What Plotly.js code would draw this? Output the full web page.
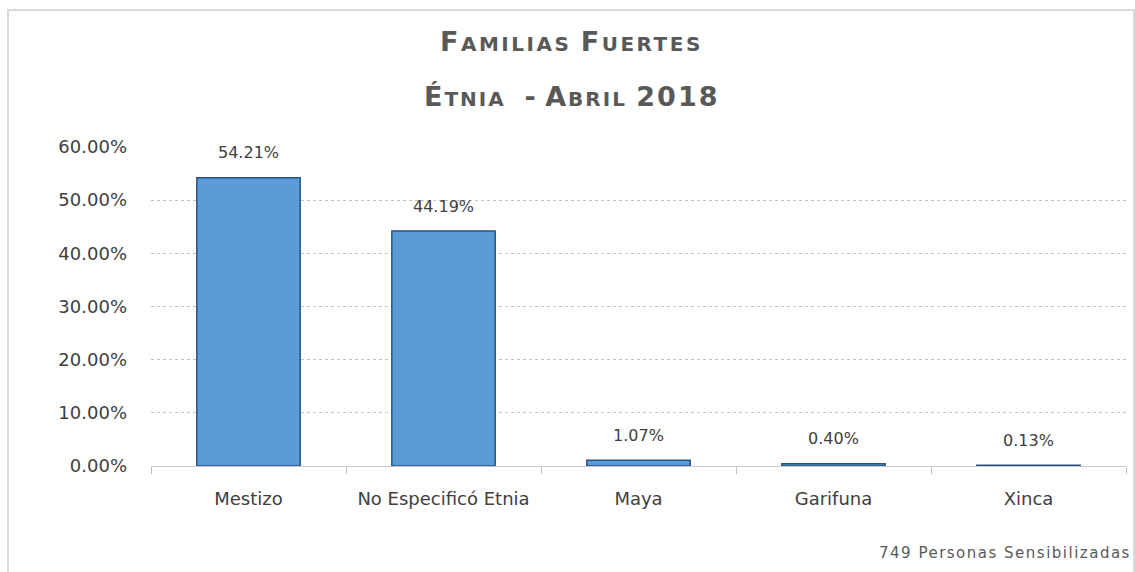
<!DOCTYPE html>
<html>
<head>
<meta charset="utf-8">
<script src="https://cdn.plot.ly/plotly-3.0.1.min.js"></script>
<style>html,body{margin:0;padding:0;background:#fff;}#chart{width:1135px;height:572px;}</style>
</head>
<body>
<div id="chart"></div>
<script>
const categories = ["Mestizo", "No Especificó Etnia", "Maya", "Garifuna", "Xinca"];
const values = [0.5421, 0.4419, 0.0107, 0.0040, 0.0013];
const valueLabels = ["54.21%", "44.19%", "1.07%", "0.40%", "0.13%"];
const yTickVals = [0, 0.1, 0.2, 0.3, 0.4, 0.5, 0.6];
const yTickText = ["0.00%", "10.00%", "20.00%", "30.00%", "40.00%", "50.00%", "60.00%"];
const footnote = "749 Personas Sensibilizadas";

const FONT = "DejaVu Sans, sans-serif";
const TXT = "#404040";

const trace = {
  type: "bar",
  x: categories,
  y: values,
  marker: { color: "#5B9BD8", line: { color: "#27537F", width: 1.5 } },
  hoverinfo: "skip"
};

const sc = "font-size:20px;letter-spacing:2.5px";
const bg = "letter-spacing:2.5px";
const annotations = categories.map((c, i) => ({
  x: c, y: values[i], xref: "x", yref: "y",
  text: valueLabels[i], showarrow: false,
  yanchor: "middle", yshift: 25,
  font: { family: FONT, size: 16, color: TXT }
}));
annotations.push({
  xref: "paper", yref: "paper", x: 0.4313, y: 1.332, xanchor: "center", yanchor: "middle",
  showarrow: false,
  text: "<b><span style='" + bg + "'>F</span><span style='" + sc + "'>AMILIAS</span> <span style='" + bg + "'>F</span><span style='" + sc + "'>UERTES</span></b>",
  font: { family: "DejaVu Sans, sans-serif", size: 27, color: "#595959" }
});
annotations.push({
  xref: "paper", yref: "paper", x: 0.4313, y: 1.158, xanchor: "center", yanchor: "middle",
  showarrow: false,
  text: "<b><span style='letter-spacing:2px'>É</span><span style='font-size:20px;letter-spacing:2px'>TNIA</span>  - <span style='letter-spacing:2px'>A</span><span style='font-size:20px;letter-spacing:2px'>BRIL</span> <span style='letter-spacing:2px'>2018</span></b>",
  font: { family: "DejaVu Sans, sans-serif", size: 27, color: "#595959" }
});
annotations.push({
  xref: "paper", yref: "paper", x: 1.0072, y: -0.2727, xanchor: "right", yanchor: "middle",
  showarrow: false, text: "<span style='letter-spacing:1.5px'>" + footnote + "</span>",
  font: { family: FONT, size: 15, color: "#595959" }
});

const layout = {
  width: 1135, height: 572,
  margin: { l: 151, r: 9, t: 147, b: 106 },
  paper_bgcolor: "#fff", plot_bgcolor: "#fff",
  bargap: 0.47,
  showlegend: false,
  font: { family: FONT, color: TXT },
  xaxis: {
    type: "category",
    tickson: "boundaries",
    ticks: "outside", ticklen: 7, tickcolor: "#bfbfbf",
    showgrid: false,
    showline: true, linecolor: "#c8c8c8", linewidth: 1,
    tickfont: { family: FONT, size: 18, color: TXT },
    ticklabelstandoff: 16,
    fixedrange: true
  },
  yaxis: {
    range: [0, 0.6],
    tickvals: yTickVals, ticktext: yTickText,
    showgrid: true, gridcolor: "#c4c4c4", griddash: "dot", gridwidth: 1,
    zeroline: false, showline: false,
    ticks: "",
    tickfont: { family: FONT, size: 18, color: TXT },
    ticklabelstandoff: 23,
    fixedrange: true
  },
  annotations: annotations,
  shapes: [{
    type: "rect", xref: "paper", yref: "paper",
    x0: -0.1467, x1: 1.0082, y0: -0.40, y1: 1.4295,
    line: { color: "#d9d9d9", width: 2 }, fillcolor: "rgba(0,0,0,0)", layer: "below"
  }]
};

Plotly.newPlot("chart", [trace], layout, { displayModeBar: false, staticPlot: true });
</script>
</body>
</html>
